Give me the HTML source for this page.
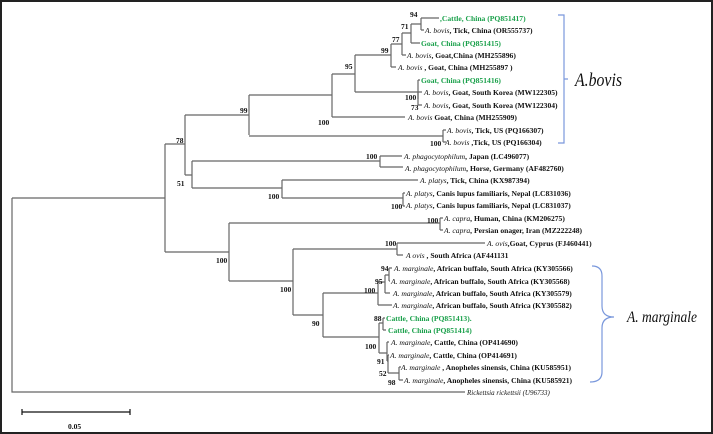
<!DOCTYPE html>
<html><head><meta charset="utf-8"><style>
html,body{margin:0;padding:0;background:#fff}
svg{display:block}
text{font-family:"Liberation Serif",serif;font-size:7.6px;font-weight:bold;fill:#111}
.g{fill:#19a04a}
.b{font-size:7.5px}
.i{font-style:italic;font-weight:normal}
</style></head><body>
<svg width="713" height="434" viewBox="0 0 713 434" xmlns="http://www.w3.org/2000/svg">
<rect x="1" y="1" width="711" height="432" fill="#fff" stroke="#222" stroke-width="2"/>
<g stroke="#666" stroke-width="1.2" fill="none">
<path d="M12 198H165M12 198V392H465"/>
<path d="M165 144V252M165 144H185M165 252H229"/>
<path d="M185 115V175M185 115H249M185 175H192"/>
<path d="M249 95V135M249 95H332M249 136H443"/>
<path d="M443 130V142M443 130H446M443 142H446"/>
<path d="M332 74V117M332 117H405M332 74H355"/>
<path d="M355 55V92M355 55H391M355 92H418"/>
<path d="M391 44V67M391 67H396M391 44H402"/>
<path d="M402 33V55M402 55H406M402 33H411"/>
<path d="M411 24V43M411 43H420M411 24H421"/>
<path d="M421 18V30M421 18H439M421 30H424"/>
<path d="M418 80V99M418 80H420"/>
<path d="M418 92V105M418 92H422M418 105H422"/>
<path d="M192 161V188M192 161H380M192 188H282"/>
<path d="M380 156V167M380 156H402M380 167H403"/>
<path d="M282 180V198M282 180H418M282 198H403"/>
<path d="M403 193V206M403 193H405M403 206H405"/>
<path d="M229 223V281M229 223H440M229 281H293"/>
<path d="M440 218V230M440 218H443M440 230H443"/>
<path d="M293 249V315M293 249H397M293 315H323"/>
<path d="M397 243V255M397 243H485M397 255H403"/>
<path d="M323 293V337M323 293H378M323 337H379"/>
<path d="M378 282V305M378 282H385M378 305H392"/>
<path d="M385 275V293M385 275H389M385 293H390"/>
<path d="M389 268V281M389 268H392M389 281H390"/>
<path d="M379 323V353M379 323H383M379 353H387"/>
<path d="M383 318V330M383 318H385M383 330H386"/>
<path d="M387 342V361M387 342H389M387 361H388"/>
<path d="M388 355V373M388 355H389M388 373H399"/>
<path d="M399 367V380M399 367H401M399 380H403"/>
</g>
<path d="M22 412H130M22 409V415M130 409V415" stroke="#111" stroke-width="1.2"/>
<text x="68" y="429" class="b">0.05</text>
<text x="440" y="21" class="g">,Cattle, China (PQ851417)</text>
<text x="425" y="33"><tspan class="i">A. bovis</tspan>, Tick, China (OR555737)</text>
<text x="421" y="46" class="g">Goat, China (PQ851415)</text>
<text x="407" y="58"><tspan class="i">A. bovis</tspan>, Goat,China (MH255896)</text>
<text x="398" y="70"><tspan class="i">A. bovis</tspan> , Goat, China (MH255897 )</text>
<text x="421" y="83" class="g">Goat, China (PQ851416)</text>
<text x="424" y="95"><tspan class="i">A. bovis</tspan>, Goat, South Korea (MW122305)</text>
<text x="424" y="108"><tspan class="i">A. bovis</tspan>, Goat, South Korea (MW122304)</text>
<text x="408" y="120"><tspan class="i">A. bovis</tspan> Goat, China (MH255909)</text>
<text x="447" y="133"><tspan class="i">A. bovis</tspan>, Tick, US (PQ166307)</text>
<text x="445" y="145"><tspan class="i">A. bovis</tspan> ,Tick, US (PQ166304)</text>
<text x="404" y="159"><tspan class="i">A. phagocytophilum</tspan>, Japan (LC496077)</text>
<text x="405" y="171"><tspan class="i">A. phagocytophilum</tspan>, Horse, Germany (AF482760)</text>
<text x="420" y="183"><tspan class="i">A. platys</tspan>, Tick, China (KX987394)</text>
<text x="406" y="196"><tspan class="i">A. platys</tspan>, Canis lupus familiaris, Nepal (LC831036)</text>
<text x="406" y="208"><tspan class="i">A. platys</tspan>, Canis lupus familiaris, Nepal (LC831037)</text>
<text x="444" y="221"><tspan class="i">A. capra</tspan>, Human, China (KM206275)</text>
<text x="444" y="233"><tspan class="i">A. capra</tspan>, Persian onager, Iran (MZ222248)</text>
<text x="487" y="246"><tspan class="i">A. ovis</tspan>,Goat, Cyprus (FJ460441)</text>
<text x="406" y="258"><tspan class="i">A ovis</tspan> , South Africa (AF441131</text>
<text x="394" y="271"><tspan class="i">A. marginale</tspan>, African buffalo, South Africa  (KY305566)</text>
<text x="391" y="284"><tspan class="i">A. marginale</tspan>, African buffalo, South Africa (KY305568)</text>
<text x="393" y="296"><tspan class="i">A. marginale</tspan>, African buffalo, South Africa (KY305579)</text>
<text x="393" y="308"><tspan class="i">A. marginale</tspan>, African buffalo, South Africa (KY305582)</text>
<text x="386" y="321" class="g">Cattle, China (PQ851413).</text>
<text x="388" y="333" class="g">Cattle, China (PQ851414)</text>
<text x="391" y="345"><tspan class="i">A. marginale</tspan>, Cattle, China (OP414690)</text>
<text x="390" y="358"><tspan class="i">A. marginale</tspan>, Cattle, China (OP414691)</text>
<text x="401" y="370"><tspan class="i">A. marginale</tspan> , Anopheles sinensis, China (KU585951)</text>
<text x="404" y="383"><tspan class="i">A. marginale</tspan>, Anopheles sinensis, China (KU585921)</text>
<text x="467" y="395" class="i" style="font-size:7px">Rickettsia rickettsii (U96733)</text>
<text x="410" y="17" class="b">94</text>
<text x="401" y="29" class="b">71</text>
<text x="392" y="42" class="b">77</text>
<text x="381" y="53" class="b">99</text>
<text x="345" y="69" class="b">95</text>
<text x="405" y="100" class="b">100</text>
<text x="411" y="110" class="b">73</text>
<text x="318" y="125" class="b">100</text>
<text x="240" y="113" class="b">99</text>
<text x="430" y="146" class="b">100</text>
<text x="176" y="143" class="b">78</text>
<text x="366" y="159" class="b">100</text>
<text x="177" y="186" class="b">51</text>
<text x="268" y="199" class="b">100</text>
<text x="391" y="209" class="b">100</text>
<text x="427" y="223" class="b">100</text>
<text x="216" y="263" class="b">100</text>
<text x="385" y="246" class="b">100</text>
<text x="280" y="292" class="b">100</text>
<text x="381" y="271" class="b">94</text>
<text x="375" y="284" class="b">95</text>
<text x="364" y="293" class="b">100</text>
<text x="312" y="326" class="b">90</text>
<text x="374" y="321" class="b">88</text>
<text x="365" y="349" class="b">100</text>
<text x="377" y="364" class="b">91</text>
<text x="379" y="376" class="b">52</text>
<text x="388" y="385" class="b">98</text>
<g stroke="#7a98dc" stroke-width="1.2" fill="none">
<path d="M558 15H564V143H558M564 79H568"/>
<path d="M592 266Q602 266 602 276V306Q602 317 614 317Q602 317 602 328V372Q602 382 590 382"/>
</g>
<text x="575" y="86" class="i" style="font-size:19px" textLength="47" lengthAdjust="spacingAndGlyphs">A.bovis</text>
<text x="627" y="322" class="i" style="font-size:16px" textLength="70" lengthAdjust="spacingAndGlyphs">A. marginale</text>
</svg>
</body></html>
